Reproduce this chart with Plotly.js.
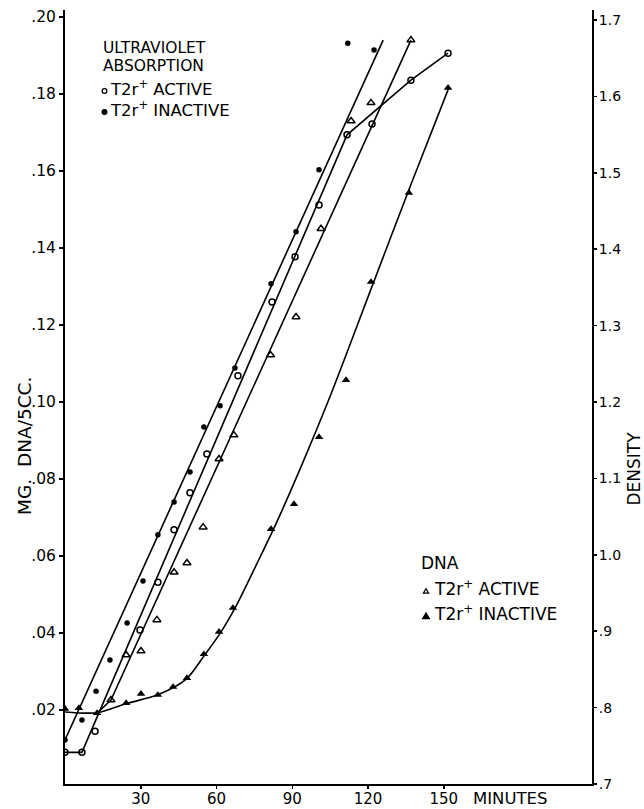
<!DOCTYPE html>
<html>
<head>
<meta charset="utf-8">
<script src="https://cdn.plot.ly/plotly-3.0.1.min.js"></script>
<style>
html,body{margin:0;padding:0;background:#fff;}
#chart{width:644px;height:809px;}
</style>
</head>
<body>
<div id="chart"></div>
<script>
// ---- Data ----
// Ultraviolet absorption, T2r+ active (open circles)
const uvActiveMinutes = [0, 6.7, 11.9, 29.7, 36.8, 43.2, 49.5, 56.2, 68.5, 82, 91.1, 100.6, 111.7, 121.6, 137, 151.7];
const uvActiveMg      = [0.009, 0.009, 0.0145, 0.0408, 0.0532, 0.0668, 0.0764, 0.0865, 0.1068, 0.126, 0.1377, 0.1512, 0.1694, 0.1722, 0.1836, 0.1906];
// Ultraviolet absorption, T2r+ inactive (filled circles)
const uvInactiveMinutes = [0, 6.7, 12.3, 17.8, 24.6, 30.9, 36.8, 43.2, 49.5, 55, 61.4, 67.3, 81.6, 91.5, 100.6, 112, 122.4];
const uvInactiveMg      = [0.0122, 0.0174, 0.0249, 0.033, 0.0426, 0.0535, 0.0655, 0.074, 0.0818, 0.0935, 0.099, 0.1088, 0.1307, 0.1442, 0.1603, 0.1932, 0.1914];
// DNA, T2r+ active (open triangles)
const dnaActiveMinutes = [18.2, 24.2, 30.1, 36.4, 43.2, 48.3, 54.7, 61.0, 66.9, 81.4, 91.5, 101.4, 113.3, 121.2, 137];
const dnaActiveMg      = [0.0226, 0.0343, 0.0353, 0.0434, 0.0558, 0.0582, 0.0675, 0.0852, 0.0914, 0.1122, 0.1221, 0.145, 0.173, 0.1777, 0.194];
// DNA, T2r+ inactive (filled triangles)
const dnaInactiveMinutes = [0, 5.5, 12.7, 24.2, 30.1, 36.8, 42.8, 48.3, 55.0, 61.0, 66.5, 81.6, 90.7, 100.6, 111.3, 121.2, 136.2, 151.7];
const dnaInactiveMg      = [0.0203, 0.0205, 0.0192, 0.0218, 0.0242, 0.0239, 0.026, 0.0283, 0.0345, 0.0403, 0.0465, 0.067, 0.0735, 0.0909, 0.1057, 0.1312, 0.1543, 0.1816];

// Hand-drawn fitted lines
const uvActiveFitMinutes = [0, 6.7, 111.7, 137, 151.7];
const uvActiveFitMg      = [0.009, 0.009, 0.1694, 0.1836, 0.1906];
const uvInactiveFitMinutes = [0, 126];
const uvInactiveFitMg      = [0.0122, 0.194];
const dnaActiveFitMinutes = [12.7, 18.2, 137];
const dnaActiveFitMg      = [0.0192, 0.0226, 0.194];
const dnaInactiveFitMinutes = [0, 13, 24, 37, 48, 55, 62, 68, 76, 84, 94, 105, 121, 137, 152];
const dnaInactiveFitMg      = [0.0195, 0.0193, 0.0216, 0.0240, 0.0280, 0.0340, 0.0405, 0.0473, 0.0580, 0.0690, 0.0840, 0.1015, 0.1290, 0.1565, 0.1816];

// Axis ticks
const minuteTicks = [30, 60, 90, 120, 150];
const minuteTickText = ['30', '60', '90', '120', '150'];
const mgTicks = [0.02, 0.04, 0.06, 0.08, 0.10, 0.12, 0.14, 0.16, 0.18, 0.20];
const mgTickText = ['.02', '.04', '.06', '.08', '.10', '.12', '.14', '.16', '.18', '.20'];
const densityTicks = [0.7, 0.8, 0.9, 1.0, 1.1, 1.2, 1.3, 1.4, 1.5, 1.6, 1.7];
const densityTickText = ['.7', '.8', '.9', '1.0', '1.1', '1.2', '1.3', '1.4', '1.5', '1.6', '1.7'];

// ---- Layout geometry ----
const W = 644, H = 809, ML = 65, MR = 52, MT = 10, MB = 25;
const PW = W - ML - MR, PH = H - MT - MB;
const px = p => (p - ML) / PW;
const py = p => (H - MB - p) / PH;
const FONT = 'DejaVu Sans';

const lineStyle = {color: '#000', width: 1.6};
const traces = [
  {x: uvActiveFitMinutes, y: uvActiveFitMg, mode: 'lines', line: lineStyle, hoverinfo: 'skip'},
  {x: uvInactiveFitMinutes, y: uvInactiveFitMg, mode: 'lines', line: lineStyle, hoverinfo: 'skip'},
  {x: dnaActiveFitMinutes, y: dnaActiveFitMg, mode: 'lines', line: lineStyle, hoverinfo: 'skip'},
  {x: dnaInactiveFitMinutes, y: dnaInactiveFitMg, mode: 'lines', line: {color: '#000', width: 1.6, shape: 'spline', smoothing: 0.8}, hoverinfo: 'skip'},
  {x: uvActiveMinutes, y: uvActiveMg, mode: 'markers', name: 'UV T2r+ active',
   marker: {symbol: 'circle-open', size: 6, color: '#000', line: {width: 1.5, color: '#000'}}},
  {x: uvInactiveMinutes, y: uvInactiveMg, mode: 'markers', name: 'UV T2r+ inactive',
   marker: {symbol: 'circle', size: 5.5, color: '#000'}},
  {x: dnaActiveMinutes, y: dnaActiveMg, mode: 'markers', name: 'DNA T2r+ active',
   marker: {symbol: 'triangle-up-open', size: 7, color: '#000', line: {width: 1.5, color: '#000'}}},
  {x: dnaInactiveMinutes, y: dnaInactiveMg, mode: 'markers', name: 'DNA T2r+ inactive',
   marker: {symbol: 'triangle-up', size: 7.5, color: '#000'}},
  {x: [], y: [], yaxis: 'y2', mode: 'markers', hoverinfo: 'skip'}
];

function txt(text, x, y, size, opts) {
  return Object.assign({
    text: text, xref: 'paper', yref: 'paper', x: px(x), y: py(y),
    xanchor: 'left', yanchor: 'middle', showarrow: false,
    font: {family: FONT, size: size, color: '#000'}
  }, opts || {});
}

const annotations = [
  txt('ULTRAVIOLET', 101, 48, 15.5),
  txt('ABSORPTION', 101, 66, 15.5),
  txt('T2r<sup>+</sup> ACTIVE', 108, 88, 16.5),
  txt('T2r<sup>+</sup> INACTIVE', 108, 109, 16.5),
  txt('DNA', 419, 563, 17),
  txt('T2r<sup>+</sup> ACTIVE', 432, 588, 17),
  txt('T2r<sup>+</sup> INACTIVE', 432, 613, 17),
  txt('MINUTES', 471, 798, 16.5),
  txt('MG.  DNA/5CC.', 24, 446, 18.5, {xanchor: 'center', textangle: -90}),
  txt('DENSITY', 633.5, 469, 17, {xanchor: 'center', textangle: -90})
];

function circ(cx, cy, r, filled) {
  return {type: 'circle', xref: 'paper', yref: 'paper',
    x0: px(cx - r), x1: px(cx + r), y0: py(cy + r), y1: py(cy - r),
    line: {color: '#000', width: 1.2}, fillcolor: filled ? '#000' : 'rgba(0,0,0,0)'};
}
function tri(cx, cy, s, filled) {
  const p = `M ${px(cx - s)} ${py(cy + s*0.8)} L ${px(cx + s)} ${py(cy + s*0.8)} L ${px(cx)} ${py(cy - s*0.9)} Z`;
  return {type: 'path', xref: 'paper', yref: 'paper', path: p,
    line: {color: '#000', width: 1.2}, fillcolor: filled ? '#000' : 'rgba(0,0,0,0)'};
}
const shapes = [
  circ(104.5, 91, 2.4, false),
  circ(104.5, 112, 2.4, true),
  tri(426, 591, 2.6, false),
  tri(426, 616, 3.4, true)
];

const axisFont = {family: FONT, size: 15.5, color: '#000'};
const layout = {
  width: W, height: H,
  margin: {l: ML, r: MR, t: MT, b: MB, pad: 0},
  paper_bgcolor: '#fff', plot_bgcolor: '#fff',
  showlegend: false,
  xaxis: {
    range: [0, PW / 2.525], tickvals: minuteTicks, ticktext: minuteTickText,
    showgrid: false, zeroline: false, showline: true, linecolor: '#000', linewidth: 2,
    ticks: 'outside', ticklen: 3, tickwidth: 1.5, tickcolor: '#000',
    ticklabelstandoff: -3,
    tickfont: {family: FONT, size: 15, color: '#000'}
  },
  yaxis: {
    range: [0.00078, 0.00078 + PH / 3850], tickvals: mgTicks, ticktext: mgTickText,
    showgrid: false, zeroline: false, showline: true, linecolor: '#000', linewidth: 2,
    ticks: 'outside', ticklen: 4, tickwidth: 1.5, tickcolor: '#000',
    tickfont: axisFont
  },
  yaxis2: {
    overlaying: 'y', side: 'right', anchor: 'x',
    range: [0.7, 0.7 + PH / 764], tickvals: densityTicks, ticktext: densityTickText,
    showgrid: false, zeroline: false, showline: true, linecolor: '#000', linewidth: 2,
    ticks: 'outside', ticklen: 3, tickwidth: 1.5, tickcolor: '#000',
    ticklabelstandoff: -1,
    tickfont: {family: FONT, size: 14, color: '#000'}
  },
  annotations: annotations,
  shapes: shapes
};

Plotly.newPlot('chart', traces, layout, {staticPlot: true, displayModeBar: false});
</script>
</body>
</html>
